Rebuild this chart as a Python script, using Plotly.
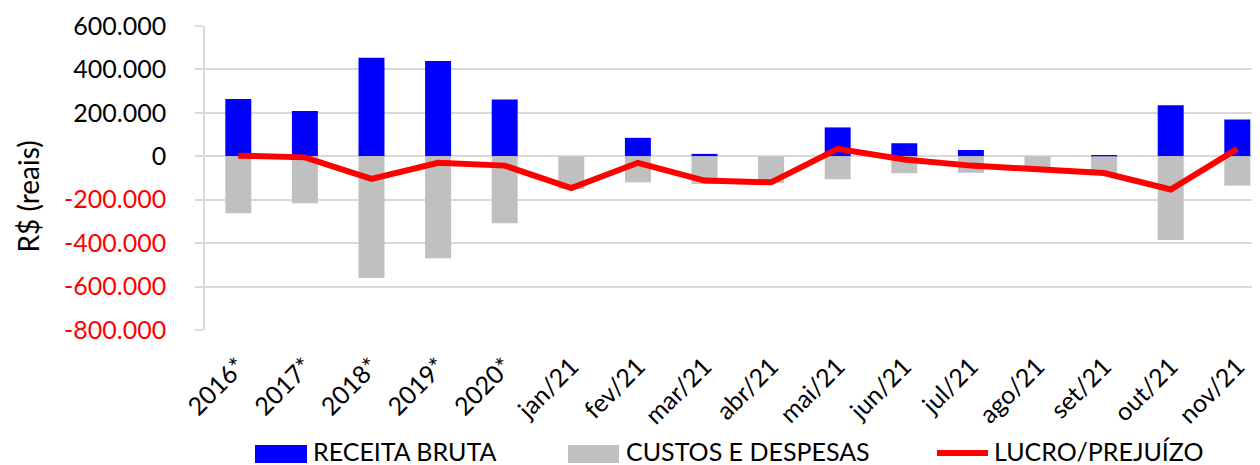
import plotly.graph_objects as go

categorias = ["2016*", "2017*", "2018*", "2019*", "2020*", "jan/21", "fev/21", "mar/21",
              "abr/21", "mai/21", "jun/21", "jul/21", "ago/21", "set/21", "out/21", "nov/21"]
receita_bruta = [264000, 209000, 454000, 439000, 262000, 0, 85000, 11000,
                 0, 133000, 60000, 29000, 0, 2000, 235000, 169000]
custos_despesas = [-262000, -216000, -561000, -469000, -308000, -150000, -120000, -127000,
                   -124000, -106000, -78000, -76000, -55000, -79000, -385000, -135000]
lucro_prejuizo = [3000, -5000, -104000, -30000, -43000, -146000, -30000, -112000,
                  -120000, 34000, -15000, -43000, -60000, -77000, -153000, 34000]

y_tickvals = [600000, 400000, 200000, 0, -200000, -400000, -600000, -800000]
y_ticktext = ["600.000", "400.000", "200.000", "0",
              '<span style="color:#FF0000">-200.000</span>',
              '<span style="color:#FF0000">-400.000</span>',
              '<span style="color:#FF0000">-600.000</span>',
              '<span style="color:#FF0000">-800.000</span>']
legend_names = ["RECEITA BRUTA", "CUSTOS E DESPESAS", "LUCRO/PREJUÍZO"]

FONT = "Lato"
GRID = "#d9d9d9"
BLUE = "#0000FF"
GRAY = "#C0C0C0"
RED = "#FF0000"

# page body has an 8px margin; size the figure so the plot lands where the reference has it
OFF = 8
W, H = 1260 - OFF, 465 - OFF
PL, PT, PB, PR = 205, 26, 330, 1260          # plot area in page pixels
ML, MT = PL - OFF, PT - OFF
MB = H - (PB - OFF)
MR = W - (PR - OFF)
pw = W - ML - MR
ph = H - MT - MB


def px_x(px):
    return (px - PL) / pw


def px_y(py):
    return (PB - py) / ph


fig = go.Figure()
fig.add_trace(go.Bar(x=categorias, y=receita_bruta, name=legend_names[0],
                     marker=dict(color=BLUE, line=dict(width=0)), width=0.39))
fig.add_trace(go.Bar(x=categorias, y=custos_despesas, name=legend_names[1],
                     marker=dict(color=GRAY, line=dict(width=0)), width=0.39))
fig.add_trace(go.Scatter(x=categorias, y=lucro_prejuizo, name=legend_names[2],
                         mode="lines", line=dict(color=RED, width=6)))

n = len(categorias)
x_range = [-0.5, -0.5 + pw / 66.6]
ymin, ymax = -800000, 600000

fig.update_layout(
    width=W, height=H,
    margin=dict(l=ML, r=MR, t=MT, b=MB, autoexpand=False),
    paper_bgcolor="white", plot_bgcolor="white",
    barmode="relative",
    showlegend=False,
    font=dict(family=FONT, color="black"),
    xaxis=dict(type="category", range=x_range, tickangle=-45, automargin=False,
               tickfont=dict(family=FONT, size=25, color="black"),
               ticks="", showgrid=False, zeroline=False, showline=False,
               ticklabelstandoff=16),
    xaxis2=dict(overlaying="x", anchor="free", position=(0 - ymin) / (ymax - ymin),
                range=x_range, tickvals=[i + 0.5 for i in range(n - 1)], automargin=False,
                ticks="outside", ticklen=8, tickwidth=1.5, tickcolor=GRID,
                showticklabels=False, showgrid=False, zeroline=False, showline=False),
    yaxis=dict(range=[ymin, ymax], tickvals=y_tickvals, ticktext=y_ticktext,
               automargin=False,
               tickfont=dict(family=FONT, size=25, color="black"),
               showgrid=True, gridcolor=GRID, gridwidth=1.5,
               zeroline=True, zerolinecolor=GRID, zerolinewidth=2,
               showline=True, linecolor=GRID, linewidth=1.5,
               ticks="outside", ticklen=8, tickwidth=1.5, tickcolor=GRID,
               ticklabelstandoff=24),
)

# Y-axis title
fig.add_annotation(text="R$ (reais)", xref="paper", yref="paper",
                   x=px_x(27.5), y=px_y(197), textangle=-90, showarrow=False,
                   font=dict(family=FONT, size=28, color="black"),
                   xanchor="center", yanchor="middle")

# Legend drawn as swatches + labels below the axis
sw_top, sw_bot = px_y(445), px_y(463)
fig.add_shape(type="rect", xref="paper", yref="paper",
              x0=px_x(255), x1=px_x(307), y0=sw_bot, y1=sw_top,
              fillcolor=BLUE, line=dict(width=0))
fig.add_shape(type="rect", xref="paper", yref="paper",
              x0=px_x(568), x1=px_x(619), y0=sw_bot, y1=sw_top,
              fillcolor=GRAY, line=dict(width=0))
fig.add_shape(type="line", xref="paper", yref="paper",
              x0=px_x(937), x1=px_x(988), y0=px_y(453), y1=px_y(453),
              line=dict(color=RED, width=6))
for name, xp in zip(legend_names, [311, 624, 992]):
    fig.add_annotation(text=name, xref="paper", yref="paper",
                       x=px_x(xp), y=px_y(451), showarrow=False,
                       xanchor="left", yanchor="middle",
                       font=dict(family=FONT, size=25, color="black"))

fig.write_html("out.html")
